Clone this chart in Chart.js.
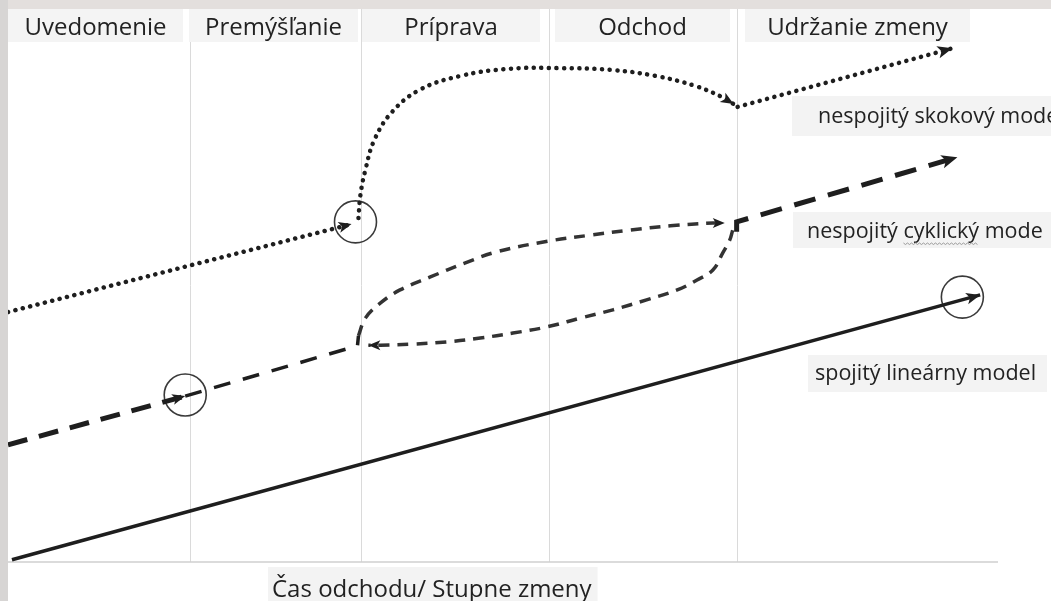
<!DOCTYPE html>
<html>
<head>
<meta charset="utf-8">
<script src="https://cdn.jsdelivr.net/npm/chart.js@4/dist/chart.umd.min.js"></script>
<style>
  body { margin: 0; background: #fff; }
  canvas { display: block; }
</style>
</head>
<body>
<canvas id="stages-chart" width="1051" height="601"></canvas>
<script>
// stages along the time axis and where one stage turns into the next (time units 0-100)
const stages = ['Uvedomenie', 'Premýšľanie', 'Príprava', 'Odchod', 'Udržanie zmeny'];
const stageBounds = [18.4, 35.7, 54.6, 73.6];
const modelNames = ['nespojitý skokový model', 'nespojitý cyklický mode', 'spojitý lineárny model'];
const axisTitle = 'Čas odchodu/ Stupne zmeny';

// [time, level of change]
const linearModel = [[0.4, 0.4], [98.2, 48.3]];

const jumpLead = [[0, 45.2], [34.7, 61.1]];
const jumpArc = [[35.4, 62.2], [35.6, 66.4], [36.1, 70.9], [37.0, 76.3], [38.8, 81.4], [41.6, 85.4],
  [45.7, 87.9], [50.7, 89.2], [55.8, 89.3], [60.8, 89.0], [65.4, 87.9], [69.4, 86.1], [72.1, 84.1], [73.3, 82.8]];
const jumpTail = [[73.7, 82.3], [95.4, 92.9]];

const cycleLead = [[0, 21.2], [17.9, 30.0]];
const cycleMid = [[17.9, 30.0], [35.3, 39.1], [35.4, 40.9]];
const cycleForward = [[35.4, 40.9], [36.1, 44.1], [37.6, 46.8], [39.6, 49.2], [42.6, 51.5], [46.2, 54.1],
  [49.4, 56.1], [54.5, 58.0], [58.8, 59.1], [62.8, 60.0], [66.9, 60.8], [71.2, 61.3], [72.4, 61.3]];
const cycleBack = [[73.2, 60.0], [72.9, 58.2], [72.2, 55.9], [71.2, 52.8], [69.6, 51.0], [67.6, 49.2],
  [64.5, 47.4], [61.1, 45.6], [57.8, 44.1], [54.4, 42.5], [51.0, 41.4], [47.7, 40.5], [44.3, 39.8],
  [40.9, 39.4], [37.6, 39.2], [36.4, 39.2]];
const cycleTail = [[73.6, 59.7], [73.6, 61.5], [95.9, 73.2]];

const circleMarks = [[35.1, 61.5], [17.9, 30.2], [96.4, 47.9]];

const pts = arr => arr.map(([x, y]) => ({ x, y }));
const ink = '#1e1e1e';

const line = (data, opts) => Object.assign({
  data: pts(data),
  showLine: true,
  borderColor: ink,
  backgroundColor: ink,
  pointRadius: 0,
  tension: 0,
  borderCapStyle: 'butt'
}, opts);

const dotted = { borderWidth: 4.5, borderDash: [0.1, 7.5], borderCapStyle: 'round' };

const datasets = [
  line(linearModel, { borderWidth: 3.5, arrow: 14 }),
  line(jumpLead, Object.assign({ arrow: 13 }, dotted)),
  line(jumpArc, Object.assign({ tension: 0.4, arrow: 13 }, dotted)),
  line(jumpTail, Object.assign({ arrow: 15 }, dotted)),
  line(cycleLead, { borderWidth: 5, borderDash: [20, 12], arrow: 13 }),
  line(cycleMid, { borderWidth: 3.5, borderDash: [17, 13] }),
  line(cycleForward, { borderWidth: 3.5, borderDash: [11, 8], borderColor: '#333', tension: 0.4, arrow: 12 }),
  line(cycleBack, { borderWidth: 3.5, borderDash: [11, 8], borderColor: '#333', tension: 0.4, arrow: 12 }),
  line(cycleTail, { borderWidth: 5, borderDash: [22, 13], arrow: 16 }),
  {
    data: pts(circleMarks),
    pointRadius: 21,
    pointBorderWidth: 1.6,
    pointBorderColor: '#3a3a3a',
    pointBackgroundColor: 'rgba(0,0,0,0)'
  }
];

const arrowHeads = {
  id: 'arrowHeads',
  afterDatasetsDraw(chart) {
    const ctx = chart.ctx;
    chart.data.datasets.forEach((ds, i) => {
      if (!ds.arrow) return;
      const els = chart.getDatasetMeta(i).data;
      const b = els[els.length - 1];
      const a = els[els.length - 2];
      let fx = a.x, fy = a.y;
      if (b.cp1x !== undefined && Math.hypot(b.cp1x - b.x, b.cp1y - b.y) > 1) { fx = b.cp1x; fy = b.cp1y; }
      const ang = Math.atan2(b.y - fy, b.x - fx);
      const len = ds.arrow, w = len * 0.42;
      ctx.save();
      ctx.translate(b.x, b.y);
      ctx.rotate(ang);
      ctx.fillStyle = ink;
      ctx.beginPath();
      ctx.moveTo(0, 0);
      ctx.lineTo(-len, -w);
      ctx.lineTo(-len * 0.75, 0);
      ctx.lineTo(-len, w);
      ctx.closePath();
      ctx.fill();
      ctx.restore();
    });
  }
};

const frame = {
  id: 'frame',
  beforeDraw(chart) {
    const ctx = chart.ctx;
    ctx.save();
    ctx.fillStyle = '#ffffff';
    ctx.fillRect(0, 0, chart.width, chart.height);
    ctx.fillStyle = '#e3dfdd';
    ctx.fillRect(0, 0, chart.width, 9);
    ctx.fillStyle = '#d7d5d4';
    ctx.fillRect(0, 0, 8, chart.height);
    ctx.restore();
  },
  beforeDatasetsDraw(chart) {
    const ctx = chart.ctx;
    const area = chart.chartArea;
    const xs = chart.scales.x;
    ctx.save();
    // stage boundaries and base line
    ctx.strokeStyle = '#dadada';
    ctx.lineWidth = 1;
    stageBounds.forEach(v => {
      const px = Math.round(xs.getPixelForValue(v)) + 0.5;
      ctx.beginPath();
      ctx.moveTo(px, area.top);
      ctx.lineTo(px, area.bottom);
      ctx.stroke();
    });
    ctx.strokeStyle = '#cfcfcf';
    ctx.lineWidth = 1.5;
    ctx.beginPath();
    ctx.moveTo(area.left, area.bottom);
    ctx.lineTo(area.right, area.bottom);
    ctx.stroke();
    // stage headers
    const headBoxes = [[8, 183], [189, 358], [362, 540], [555, 730], [745, 970]];
    ctx.font = '24px "Open Sans"';
    ctx.textAlign = 'center';
    ctx.textBaseline = 'alphabetic';
    stages.forEach((s, i) => {
      const [l, r] = headBoxes[i];
      ctx.fillStyle = '#f4f4f4';
      ctx.fillRect(l, 9, r - l, 33);
      ctx.fillStyle = '#222';
      ctx.fillText(s, (l + r) / 2, 35);
    });
    // model labels
    const labelBoxes = [[792, 96, 1051, 136, 818, 123], [793, 212, 1051, 248, 807, 238], [808, 355, 1047, 392, 815, 380]];
    ctx.font = '21.5px "Open Sans"';
    ctx.textAlign = 'left';
    modelNames.forEach((s, i) => {
      const [l, t, r, b, tx, ty] = labelBoxes[i];
      ctx.fillStyle = '#f3f3f3';
      ctx.fillRect(l, t, r - l, b - t);
      ctx.fillStyle = '#222';
      ctx.fillText(s, tx, ty);
    });
    // spell-check squiggle under "cyklický"
    const pre = ctx.measureText('nespojitý ').width;
    const wlen = ctx.measureText('cyklický').width;
    ctx.strokeStyle = '#9a9a9a';
    ctx.lineWidth = 1;
    ctx.beginPath();
    for (let k = 0; k <= wlen; k += 2) {
      const yy = 243 + (k % 4 === 0 ? 0 : 1.5);
      k === 0 ? ctx.moveTo(807 + pre + k, yy) : ctx.lineTo(807 + pre + k, yy);
    }
    ctx.stroke();
    // axis title
    ctx.font = '24px "Open Sans"';
    const tw = ctx.measureText(axisTitle).width;
    ctx.fillStyle = '#f3f3f3';
    ctx.fillRect(268, 567, tw + 10, 34);
    ctx.fillStyle = '#222';
    ctx.fillText(axisTitle, 272, 597);
    ctx.restore();
  }
};

new Chart(document.getElementById('stages-chart').getContext('2d'), {
  type: 'scatter',
  data: { datasets: datasets },
  options: {
    responsive: false,
    animation: false,
    events: [],
    layout: { autoPadding: false, padding: { left: 8, top: 9, right: 53, bottom: 39 } },
    plugins: { legend: { display: false }, tooltip: { enabled: false } },
    scales: {
      x: { min: 0, max: 100, display: false },
      y: { min: 0, max: 100, display: false }
    }
  },
  plugins: [frame, arrowHeads]
});
</script>
</body>
</html>
